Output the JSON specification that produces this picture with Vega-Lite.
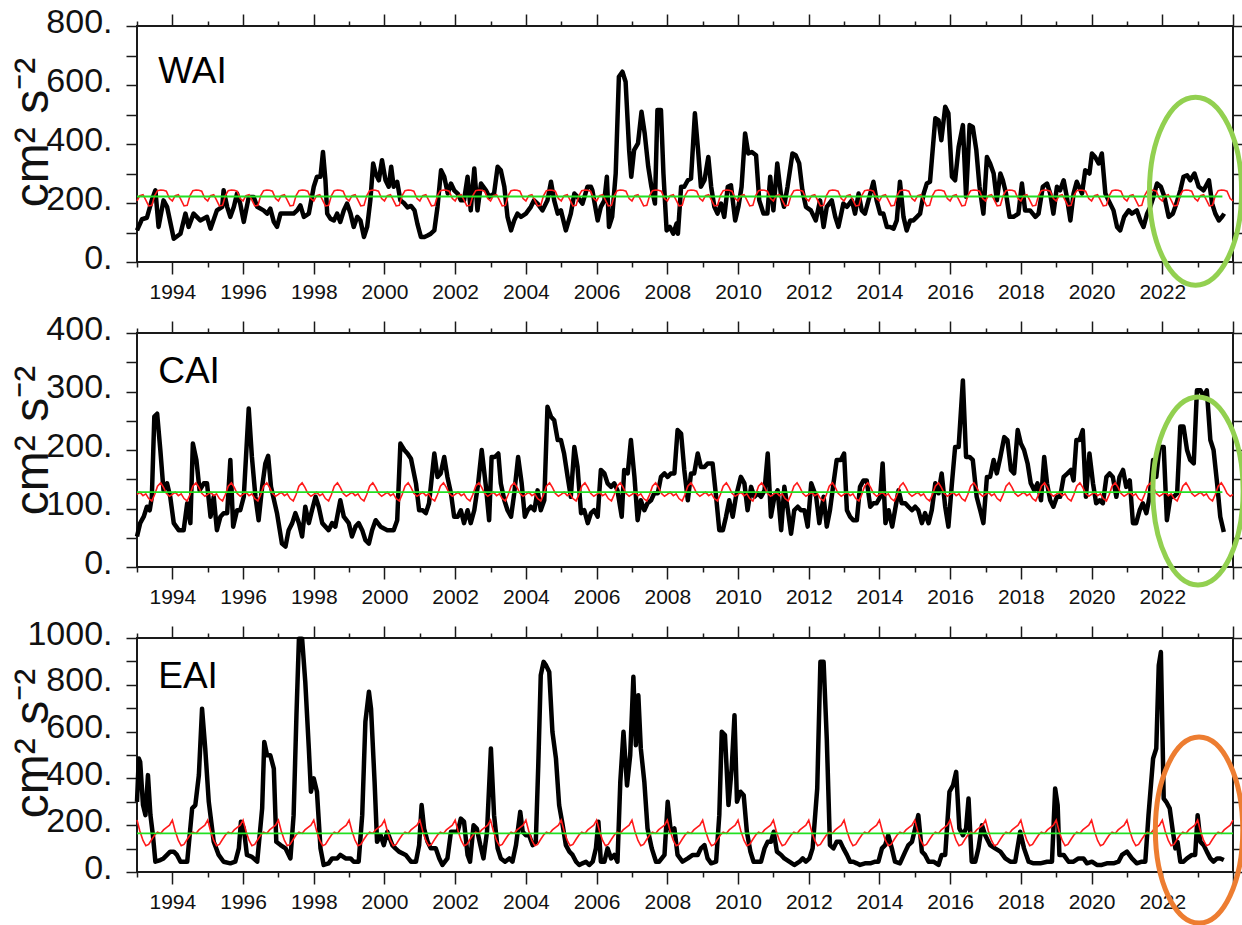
{
"$schema":"https://vega.github.io/schema/vega-lite/v6.json",
"autosize":{"type":"none"},
"padding":{"left":137,"top":26,"right":1105,"bottom":899},
"background":"white",
"spacing":71,
"bounds":"flush",
"config":{"view":{"stroke":"#1a1a1a","strokeWidth":2},"axis":{"domain":false,"grid":false,"tickColor":"#1a1a1a","tickWidth":1.5,"labelFont":"Liberation Sans","titleFont":"Liberation Sans Narrow, Liberation Sans","labelColor":"#111","titleColor":"#111","labelOverlap":false,"labelFlush":false,"titleFontWeight":"normal"}},
"datasets":{
"tl":[{"t":1993,"m":1},{"t":1993.08,"m":2},{"t":1993.17,"m":3},{"t":1993.25,"m":4},{"t":1993.33,"m":5},{"t":1993.42,"m":6},{"t":1993.5,"m":7},{"t":1993.58,"m":8},{"t":1993.67,"m":9},{"t":1993.75,"m":10},{"t":1993.83,"m":11},{"t":1993.92,"m":12},
{"t":1994,"m":1},{"t":1994.08,"m":2},{"t":1994.17,"m":3},{"t":1994.25,"m":4},{"t":1994.33,"m":5},{"t":1994.42,"m":6},{"t":1994.5,"m":7},{"t":1994.58,"m":8},{"t":1994.67,"m":9},{"t":1994.75,"m":10},{"t":1994.83,"m":11},{"t":1994.92,"m":12},
{"t":1995,"m":1},{"t":1995.08,"m":2},{"t":1995.17,"m":3},{"t":1995.25,"m":4},{"t":1995.33,"m":5},{"t":1995.42,"m":6},{"t":1995.5,"m":7},{"t":1995.58,"m":8},{"t":1995.67,"m":9},{"t":1995.75,"m":10},{"t":1995.83,"m":11},{"t":1995.92,"m":12},
{"t":1996,"m":1},{"t":1996.08,"m":2},{"t":1996.17,"m":3},{"t":1996.25,"m":4},{"t":1996.33,"m":5},{"t":1996.42,"m":6},{"t":1996.5,"m":7},{"t":1996.58,"m":8},{"t":1996.67,"m":9},{"t":1996.75,"m":10},{"t":1996.83,"m":11},{"t":1996.92,"m":12},
{"t":1997,"m":1},{"t":1997.08,"m":2},{"t":1997.17,"m":3},{"t":1997.25,"m":4},{"t":1997.33,"m":5},{"t":1997.42,"m":6},{"t":1997.5,"m":7},{"t":1997.58,"m":8},{"t":1997.67,"m":9},{"t":1997.75,"m":10},{"t":1997.83,"m":11},{"t":1997.92,"m":12},
{"t":1998,"m":1},{"t":1998.08,"m":2},{"t":1998.17,"m":3},{"t":1998.25,"m":4},{"t":1998.33,"m":5},{"t":1998.42,"m":6},{"t":1998.5,"m":7},{"t":1998.58,"m":8},{"t":1998.67,"m":9},{"t":1998.75,"m":10},{"t":1998.83,"m":11},{"t":1998.92,"m":12},
{"t":1999,"m":1},{"t":1999.08,"m":2},{"t":1999.17,"m":3},{"t":1999.25,"m":4},{"t":1999.33,"m":5},{"t":1999.42,"m":6},{"t":1999.5,"m":7},{"t":1999.58,"m":8},{"t":1999.67,"m":9},{"t":1999.75,"m":10},{"t":1999.83,"m":11},{"t":1999.92,"m":12},
{"t":2000,"m":1},{"t":2000.08,"m":2},{"t":2000.17,"m":3},{"t":2000.25,"m":4},{"t":2000.33,"m":5},{"t":2000.42,"m":6},{"t":2000.5,"m":7},{"t":2000.58,"m":8},{"t":2000.67,"m":9},{"t":2000.75,"m":10},{"t":2000.83,"m":11},{"t":2000.92,"m":12},
{"t":2001,"m":1},{"t":2001.08,"m":2},{"t":2001.17,"m":3},{"t":2001.25,"m":4},{"t":2001.33,"m":5},{"t":2001.42,"m":6},{"t":2001.5,"m":7},{"t":2001.58,"m":8},{"t":2001.67,"m":9},{"t":2001.75,"m":10},{"t":2001.83,"m":11},{"t":2001.92,"m":12},
{"t":2002,"m":1},{"t":2002.08,"m":2},{"t":2002.17,"m":3},{"t":2002.25,"m":4},{"t":2002.33,"m":5},{"t":2002.42,"m":6},{"t":2002.5,"m":7},{"t":2002.58,"m":8},{"t":2002.67,"m":9},{"t":2002.75,"m":10},{"t":2002.83,"m":11},{"t":2002.92,"m":12},
{"t":2003,"m":1},{"t":2003.08,"m":2},{"t":2003.17,"m":3},{"t":2003.25,"m":4},{"t":2003.33,"m":5},{"t":2003.42,"m":6},{"t":2003.5,"m":7},{"t":2003.58,"m":8},{"t":2003.67,"m":9},{"t":2003.75,"m":10},{"t":2003.83,"m":11},{"t":2003.92,"m":12},
{"t":2004,"m":1},{"t":2004.08,"m":2},{"t":2004.17,"m":3},{"t":2004.25,"m":4},{"t":2004.33,"m":5},{"t":2004.42,"m":6},{"t":2004.5,"m":7},{"t":2004.58,"m":8},{"t":2004.67,"m":9},{"t":2004.75,"m":10},{"t":2004.83,"m":11},{"t":2004.92,"m":12},
{"t":2005,"m":1},{"t":2005.08,"m":2},{"t":2005.17,"m":3},{"t":2005.25,"m":4},{"t":2005.33,"m":5},{"t":2005.42,"m":6},{"t":2005.5,"m":7},{"t":2005.58,"m":8},{"t":2005.67,"m":9},{"t":2005.75,"m":10},{"t":2005.83,"m":11},{"t":2005.92,"m":12},
{"t":2006,"m":1},{"t":2006.08,"m":2},{"t":2006.17,"m":3},{"t":2006.25,"m":4},{"t":2006.33,"m":5},{"t":2006.42,"m":6},{"t":2006.5,"m":7},{"t":2006.58,"m":8},{"t":2006.67,"m":9},{"t":2006.75,"m":10},{"t":2006.83,"m":11},{"t":2006.92,"m":12},
{"t":2007,"m":1},{"t":2007.08,"m":2},{"t":2007.17,"m":3},{"t":2007.25,"m":4},{"t":2007.33,"m":5},{"t":2007.42,"m":6},{"t":2007.5,"m":7},{"t":2007.58,"m":8},{"t":2007.67,"m":9},{"t":2007.75,"m":10},{"t":2007.83,"m":11},{"t":2007.92,"m":12},
{"t":2008,"m":1},{"t":2008.08,"m":2},{"t":2008.17,"m":3},{"t":2008.25,"m":4},{"t":2008.33,"m":5},{"t":2008.42,"m":6},{"t":2008.5,"m":7},{"t":2008.58,"m":8},{"t":2008.67,"m":9},{"t":2008.75,"m":10},{"t":2008.83,"m":11},{"t":2008.92,"m":12},
{"t":2009,"m":1},{"t":2009.08,"m":2},{"t":2009.17,"m":3},{"t":2009.25,"m":4},{"t":2009.33,"m":5},{"t":2009.42,"m":6},{"t":2009.5,"m":7},{"t":2009.58,"m":8},{"t":2009.67,"m":9},{"t":2009.75,"m":10},{"t":2009.83,"m":11},{"t":2009.92,"m":12},
{"t":2010,"m":1},{"t":2010.08,"m":2},{"t":2010.17,"m":3},{"t":2010.25,"m":4},{"t":2010.33,"m":5},{"t":2010.42,"m":6},{"t":2010.5,"m":7},{"t":2010.58,"m":8},{"t":2010.67,"m":9},{"t":2010.75,"m":10},{"t":2010.83,"m":11},{"t":2010.92,"m":12},
{"t":2011,"m":1},{"t":2011.08,"m":2},{"t":2011.17,"m":3},{"t":2011.25,"m":4},{"t":2011.33,"m":5},{"t":2011.42,"m":6},{"t":2011.5,"m":7},{"t":2011.58,"m":8},{"t":2011.67,"m":9},{"t":2011.75,"m":10},{"t":2011.83,"m":11},{"t":2011.92,"m":12},
{"t":2012,"m":1},{"t":2012.08,"m":2},{"t":2012.17,"m":3},{"t":2012.25,"m":4},{"t":2012.33,"m":5},{"t":2012.42,"m":6},{"t":2012.5,"m":7},{"t":2012.58,"m":8},{"t":2012.67,"m":9},{"t":2012.75,"m":10},{"t":2012.83,"m":11},{"t":2012.92,"m":12},
{"t":2013,"m":1},{"t":2013.08,"m":2},{"t":2013.17,"m":3},{"t":2013.25,"m":4},{"t":2013.33,"m":5},{"t":2013.42,"m":6},{"t":2013.5,"m":7},{"t":2013.58,"m":8},{"t":2013.67,"m":9},{"t":2013.75,"m":10},{"t":2013.83,"m":11},{"t":2013.92,"m":12},
{"t":2014,"m":1},{"t":2014.08,"m":2},{"t":2014.17,"m":3},{"t":2014.25,"m":4},{"t":2014.33,"m":5},{"t":2014.42,"m":6},{"t":2014.5,"m":7},{"t":2014.58,"m":8},{"t":2014.67,"m":9},{"t":2014.75,"m":10},{"t":2014.83,"m":11},{"t":2014.92,"m":12},
{"t":2015,"m":1},{"t":2015.08,"m":2},{"t":2015.17,"m":3},{"t":2015.25,"m":4},{"t":2015.33,"m":5},{"t":2015.42,"m":6},{"t":2015.5,"m":7},{"t":2015.58,"m":8},{"t":2015.67,"m":9},{"t":2015.75,"m":10},{"t":2015.83,"m":11},{"t":2015.92,"m":12},
{"t":2016,"m":1},{"t":2016.08,"m":2},{"t":2016.17,"m":3},{"t":2016.25,"m":4},{"t":2016.33,"m":5},{"t":2016.42,"m":6},{"t":2016.5,"m":7},{"t":2016.58,"m":8},{"t":2016.67,"m":9},{"t":2016.75,"m":10},{"t":2016.83,"m":11},{"t":2016.92,"m":12},
{"t":2017,"m":1},{"t":2017.08,"m":2},{"t":2017.17,"m":3},{"t":2017.25,"m":4},{"t":2017.33,"m":5},{"t":2017.42,"m":6},{"t":2017.5,"m":7},{"t":2017.58,"m":8},{"t":2017.67,"m":9},{"t":2017.75,"m":10},{"t":2017.83,"m":11},{"t":2017.92,"m":12},
{"t":2018,"m":1},{"t":2018.08,"m":2},{"t":2018.17,"m":3},{"t":2018.25,"m":4},{"t":2018.33,"m":5},{"t":2018.42,"m":6},{"t":2018.5,"m":7},{"t":2018.58,"m":8},{"t":2018.67,"m":9},{"t":2018.75,"m":10},{"t":2018.83,"m":11},{"t":2018.92,"m":12},
{"t":2019,"m":1},{"t":2019.08,"m":2},{"t":2019.17,"m":3},{"t":2019.25,"m":4},{"t":2019.33,"m":5},{"t":2019.42,"m":6},{"t":2019.5,"m":7},{"t":2019.58,"m":8},{"t":2019.67,"m":9},{"t":2019.75,"m":10},{"t":2019.83,"m":11},{"t":2019.92,"m":12},
{"t":2020,"m":1},{"t":2020.08,"m":2},{"t":2020.17,"m":3},{"t":2020.25,"m":4},{"t":2020.33,"m":5},{"t":2020.42,"m":6},{"t":2020.5,"m":7},{"t":2020.58,"m":8},{"t":2020.67,"m":9},{"t":2020.75,"m":10},{"t":2020.83,"m":11},{"t":2020.92,"m":12},
{"t":2021,"m":1},{"t":2021.08,"m":2},{"t":2021.17,"m":3},{"t":2021.25,"m":4},{"t":2021.33,"m":5},{"t":2021.42,"m":6},{"t":2021.5,"m":7},{"t":2021.58,"m":8},{"t":2021.67,"m":9},{"t":2021.75,"m":10},{"t":2021.83,"m":11},{"t":2021.92,"m":12},
{"t":2022,"m":1},{"t":2022.08,"m":2},{"t":2022.17,"m":3},{"t":2022.25,"m":4},{"t":2022.33,"m":5},{"t":2022.42,"m":6},{"t":2022.5,"m":7},{"t":2022.58,"m":8},{"t":2022.67,"m":9},{"t":2022.75,"m":10},{"t":2022.83,"m":11},{"t":2022.92,"m":12},
{"t":2023,"m":1},{"t":2023.08,"m":2},{"t":2023.17,"m":3},{"t":2023.25,"m":4},{"t":2023.33,"m":5},{"t":2023.42,"m":6},{"t":2023.5,"m":7},{"t":2023.58,"m":8},{"t":2023.67,"m":9},{"t":2023.75,"m":10},{"t":2023.83,"m":11},{"t":2023.92,"m":12},
{"t":2024,"m":1}],
"wai":[{"t":1993,"v":107},{"t":1993.14,"v":145},{"t":1993.28,"v":150},{"t":1993.42,"v":210},{"t":1993.52,"v":243},{"t":1993.61,"v":119},{"t":1993.75,"v":209},{"t":1993.85,"v":187},{"t":1994.04,"v":79},{"t":1994.23,"v":96},{"t":1994.37,"v":164},{"t":1994.46,"v":119},{"t":1994.6,"v":164},{"t":1994.79,"v":141},{"t":1994.98,"v":153},{"t":1995.08,"v":113},{"t":1995.26,"v":175},{"t":1995.41,"v":187},{"t":1995.45,"v":243},{"t":1995.55,"v":187},{"t":1995.64,"v":153},{"t":1995.74,"v":187},{"t":1995.83,"v":232},{"t":1995.92,"v":198},{"t":1996.02,"v":136},{"t":1996.16,"v":220},{"t":1996.3,"v":220},{"t":1996.4,"v":187},{"t":1996.58,"v":175},{"t":1996.68,"v":164},{"t":1996.77,"v":181},{"t":1996.87,"v":136},{"t":1996.96,"v":119},{"t":1997.06,"v":164},{"t":1997.25,"v":164},{"t":1997.43,"v":164},{"t":1997.53,"v":175},{"t":1997.62,"v":192},{"t":1997.72,"v":153},{"t":1997.86,"v":164},{"t":1998,"v":255},{"t":1998.09,"v":289},{"t":1998.19,"v":289},{"t":1998.26,"v":373},{"t":1998.33,"v":277},{"t":1998.38,"v":164},{"t":1998.47,"v":147},{"t":1998.57,"v":141},{"t":1998.66,"v":164},{"t":1998.75,"v":136},{"t":1998.85,"v":175},{"t":1998.94,"v":198},{"t":1999.04,"v":164},{"t":1999.13,"v":119},{"t":1999.23,"v":153},{"t":1999.32,"v":141},{"t":1999.42,"v":85},{"t":1999.51,"v":119},{"t":1999.6,"v":209},{"t":1999.68,"v":334},{"t":1999.75,"v":300},{"t":1999.84,"v":277},{"t":1999.93,"v":345},{"t":2000.03,"v":277},{"t":2000.12,"v":255},{"t":2000.19,"v":323},{"t":2000.26,"v":255},{"t":2000.36,"v":272},{"t":2000.45,"v":209},{"t":2000.55,"v":200},{"t":2000.65,"v":185},{"t":2000.75,"v":190},{"t":2000.85,"v":175},{"t":2000.93,"v":130},{"t":2001.03,"v":85},{"t":2001.13,"v":85},{"t":2001.22,"v":90},{"t":2001.31,"v":96},{"t":2001.41,"v":107},{"t":2001.5,"v":187},{"t":2001.6,"v":311},{"t":2001.69,"v":289},{"t":2001.79,"v":232},{"t":2001.88,"v":266},{"t":2001.97,"v":243},{"t":2002.07,"v":232},{"t":2002.16,"v":209},{"t":2002.25,"v":209},{"t":2002.35,"v":289},{"t":2002.44,"v":175},{"t":2002.54,"v":317},{"t":2002.63,"v":175},{"t":2002.73,"v":266},{"t":2002.87,"v":243},{"t":2002.96,"v":221},{"t":2003.1,"v":232},{"t":2003.2,"v":323},{"t":2003.29,"v":311},{"t":2003.39,"v":255},{"t":2003.48,"v":153},{"t":2003.58,"v":107},{"t":2003.67,"v":141},{"t":2003.76,"v":164},{"t":2003.86,"v":153},{"t":2004,"v":164},{"t":2004.14,"v":187},{"t":2004.23,"v":209},{"t":2004.33,"v":198},{"t":2004.47,"v":175},{"t":2004.61,"v":209},{"t":2004.71,"v":272},{"t":2004.8,"v":209},{"t":2004.9,"v":164},{"t":2004.99,"v":175},{"t":2005.13,"v":107},{"t":2005.27,"v":164},{"t":2005.37,"v":232},{"t":2005.46,"v":221},{"t":2005.6,"v":198},{"t":2005.74,"v":255},{"t":2005.84,"v":255},{"t":2005.88,"v":243},{"t":2006.03,"v":141},{"t":2006.12,"v":187},{"t":2006.22,"v":209},{"t":2006.29,"v":289},{"t":2006.35,"v":119},{"t":2006.44,"v":153},{"t":2006.54,"v":300},{"t":2006.63,"v":628},{"t":2006.73,"v":645},{"t":2006.82,"v":611},{"t":2006.92,"v":379},{"t":2006.98,"v":289},{"t":2007.06,"v":379},{"t":2007.17,"v":402},{"t":2007.27,"v":509},{"t":2007.36,"v":436},{"t":2007.46,"v":323},{"t":2007.55,"v":255},{"t":2007.65,"v":198},{"t":2007.72,"v":515},{"t":2007.82,"v":515},{"t":2007.89,"v":300},{"t":2007.98,"v":107},{"t":2008.07,"v":119},{"t":2008.17,"v":96},{"t":2008.26,"v":130},{"t":2008.3,"v":96},{"t":2008.39,"v":255},{"t":2008.48,"v":255},{"t":2008.58,"v":277},{"t":2008.67,"v":283},{"t":2008.78,"v":504},{"t":2008.87,"v":379},{"t":2008.95,"v":255},{"t":2009.05,"v":277},{"t":2009.16,"v":356},{"t":2009.24,"v":255},{"t":2009.33,"v":187},{"t":2009.42,"v":164},{"t":2009.52,"v":198},{"t":2009.61,"v":153},{"t":2009.71,"v":255},{"t":2009.8,"v":260},{"t":2009.92,"v":141},{"t":2010.01,"v":187},{"t":2010.1,"v":255},{"t":2010.2,"v":436},{"t":2010.29,"v":368},{"t":2010.39,"v":373},{"t":2010.51,"v":362},{"t":2010.6,"v":209},{"t":2010.72,"v":164},{"t":2010.83,"v":164},{"t":2010.91,"v":289},{"t":2011,"v":175},{"t":2011.11,"v":334},{"t":2011.21,"v":232},{"t":2011.3,"v":187},{"t":2011.4,"v":255},{"t":2011.54,"v":368},{"t":2011.63,"v":362},{"t":2011.73,"v":334},{"t":2011.82,"v":243},{"t":2011.92,"v":187},{"t":2012.06,"v":175},{"t":2012.2,"v":141},{"t":2012.32,"v":209},{"t":2012.42,"v":119},{"t":2012.51,"v":187},{"t":2012.65,"v":209},{"t":2012.75,"v":153},{"t":2012.84,"v":119},{"t":2012.98,"v":198},{"t":2013.08,"v":187},{"t":2013.22,"v":209},{"t":2013.31,"v":164},{"t":2013.41,"v":232},{"t":2013.5,"v":175},{"t":2013.59,"v":164},{"t":2013.69,"v":209},{"t":2013.83,"v":272},{"t":2013.92,"v":209},{"t":2014.02,"v":164},{"t":2014.11,"v":164},{"t":2014.21,"v":119},{"t":2014.3,"v":119},{"t":2014.4,"v":113},{"t":2014.49,"v":141},{"t":2014.58,"v":272},{"t":2014.68,"v":153},{"t":2014.77,"v":107},{"t":2014.87,"v":141},{"t":2014.96,"v":141},{"t":2015.06,"v":153},{"t":2015.15,"v":164},{"t":2015.25,"v":232},{"t":2015.34,"v":266},{"t":2015.43,"v":272},{"t":2015.58,"v":487},{"t":2015.67,"v":481},{"t":2015.75,"v":413},{"t":2015.86,"v":526},{"t":2015.95,"v":504},{"t":2016.05,"v":289},{"t":2016.14,"v":277},{"t":2016.24,"v":390},{"t":2016.36,"v":464},{"t":2016.45,"v":221},{"t":2016.55,"v":464},{"t":2016.64,"v":458},{"t":2016.74,"v":379},{"t":2016.83,"v":255},{"t":2016.94,"v":164},{"t":2017.04,"v":356},{"t":2017.13,"v":334},{"t":2017.23,"v":300},{"t":2017.32,"v":209},{"t":2017.42,"v":300},{"t":2017.49,"v":277},{"t":2017.58,"v":232},{"t":2017.68,"v":153},{"t":2017.79,"v":153},{"t":2017.93,"v":164},{"t":2018.03,"v":266},{"t":2018.12,"v":175},{"t":2018.26,"v":175},{"t":2018.41,"v":153},{"t":2018.5,"v":164},{"t":2018.62,"v":255},{"t":2018.74,"v":266},{"t":2018.83,"v":232},{"t":2018.92,"v":164},{"t":2019.02,"v":255},{"t":2019.11,"v":243},{"t":2019.21,"v":277},{"t":2019.3,"v":221},{"t":2019.4,"v":141},{"t":2019.49,"v":232},{"t":2019.58,"v":272},{"t":2019.73,"v":232},{"t":2019.82,"v":311},{"t":2019.94,"v":300},{"t":2020.01,"v":368},{"t":2020.1,"v":356},{"t":2020.2,"v":334},{"t":2020.29,"v":368},{"t":2020.39,"v":232},{"t":2020.48,"v":209},{"t":2020.62,"v":175},{"t":2020.72,"v":119},{"t":2020.81,"v":107},{"t":2020.92,"v":153},{"t":2021.05,"v":175},{"t":2021.14,"v":164},{"t":2021.28,"v":175},{"t":2021.38,"v":141},{"t":2021.47,"v":119},{"t":2021.57,"v":164},{"t":2021.66,"v":187},{"t":2021.75,"v":221},{"t":2021.85,"v":266},{"t":2021.96,"v":255},{"t":2022.06,"v":221},{"t":2022.18,"v":153},{"t":2022.3,"v":164},{"t":2022.4,"v":198},{"t":2022.51,"v":243},{"t":2022.6,"v":289},{"t":2022.7,"v":294},{"t":2022.79,"v":277},{"t":2022.91,"v":300},{"t":2023.03,"v":255},{"t":2023.17,"v":243},{"t":2023.32,"v":277},{"t":2023.41,"v":198},{"t":2023.5,"v":164},{"t":2023.6,"v":141},{"t":2023.69,"v":153},{"t":2023.75,"v":164}],
"cai":[{"t":1993,"v":52},{"t":1993.09,"v":75},{"t":1993.19,"v":86},{"t":1993.28,"v":103},{"t":1993.36,"v":97},{"t":1993.42,"v":120},{"t":1993.49,"v":257},{"t":1993.57,"v":262},{"t":1993.66,"v":200},{"t":1993.75,"v":131},{"t":1993.85,"v":143},{"t":1993.94,"v":120},{"t":1994.04,"v":75},{"t":1994.18,"v":63},{"t":1994.32,"v":63},{"t":1994.42,"v":109},{"t":1994.51,"v":75},{"t":1994.58,"v":211},{"t":1994.68,"v":183},{"t":1994.77,"v":131},{"t":1994.89,"v":143},{"t":1994.98,"v":143},{"t":1995.08,"v":86},{"t":1995.17,"v":120},{"t":1995.26,"v":63},{"t":1995.36,"v":86},{"t":1995.45,"v":92},{"t":1995.55,"v":92},{"t":1995.64,"v":183},{"t":1995.72,"v":69},{"t":1995.83,"v":97},{"t":1995.92,"v":97},{"t":1996.02,"v":120},{"t":1996.16,"v":271},{"t":1996.25,"v":188},{"t":1996.35,"v":120},{"t":1996.44,"v":80},{"t":1996.54,"v":137},{"t":1996.63,"v":177},{"t":1996.71,"v":190},{"t":1996.79,"v":137},{"t":1996.96,"v":92},{"t":1997.1,"v":40},{"t":1997.2,"v":35},{"t":1997.29,"v":63},{"t":1997.39,"v":75},{"t":1997.48,"v":92},{"t":1997.58,"v":75},{"t":1997.67,"v":52},{"t":1997.76,"v":103},{"t":1997.86,"v":75},{"t":1997.95,"v":97},{"t":1998.05,"v":120},{"t":1998.14,"v":103},{"t":1998.24,"v":75},{"t":1998.33,"v":69},{"t":1998.42,"v":63},{"t":1998.52,"v":75},{"t":1998.61,"v":69},{"t":1998.75,"v":114},{"t":1998.85,"v":86},{"t":1998.99,"v":75},{"t":1999.08,"v":52},{"t":1999.18,"v":69},{"t":1999.27,"v":75},{"t":1999.37,"v":63},{"t":1999.46,"v":46},{"t":1999.56,"v":40},{"t":1999.65,"v":63},{"t":1999.75,"v":80},{"t":1999.89,"v":69},{"t":2000.08,"v":63},{"t":2000.26,"v":63},{"t":2000.36,"v":80},{"t":2000.45,"v":211},{"t":2000.56,"v":200},{"t":2000.65,"v":194},{"t":2000.75,"v":185},{"t":2000.89,"v":143},{"t":2000.98,"v":97},{"t":2001.08,"v":97},{"t":2001.17,"v":92},{"t":2001.26,"v":109},{"t":2001.41,"v":194},{"t":2001.5,"v":154},{"t":2001.59,"v":160},{"t":2001.69,"v":188},{"t":2001.78,"v":154},{"t":2001.88,"v":126},{"t":2001.97,"v":86},{"t":2002.07,"v":86},{"t":2002.16,"v":97},{"t":2002.25,"v":75},{"t":2002.35,"v":97},{"t":2002.44,"v":75},{"t":2002.54,"v":97},{"t":2002.65,"v":143},{"t":2002.75,"v":200},{"t":2002.87,"v":137},{"t":2002.96,"v":80},{"t":2003.03,"v":188},{"t":2003.12,"v":188},{"t":2003.22,"v":194},{"t":2003.29,"v":143},{"t":2003.39,"v":114},{"t":2003.48,"v":97},{"t":2003.58,"v":86},{"t":2003.67,"v":126},{"t":2003.78,"v":188},{"t":2003.88,"v":143},{"t":2003.97,"v":86},{"t":2004.05,"v":97},{"t":2004.14,"v":103},{"t":2004.24,"v":97},{"t":2004.33,"v":131},{"t":2004.42,"v":97},{"t":2004.52,"v":114},{"t":2004.61,"v":274},{"t":2004.71,"v":257},{"t":2004.8,"v":251},{"t":2004.9,"v":217},{"t":2004.99,"v":217},{"t":2005.08,"v":194},{"t":2005.18,"v":154},{"t":2005.27,"v":120},{"t":2005.37,"v":205},{"t":2005.46,"v":171},{"t":2005.56,"v":92},{"t":2005.65,"v":97},{"t":2005.75,"v":75},{"t":2005.84,"v":92},{"t":2005.93,"v":97},{"t":2006.03,"v":86},{"t":2006.12,"v":166},{"t":2006.22,"v":160},{"t":2006.31,"v":143},{"t":2006.41,"v":137},{"t":2006.5,"v":143},{"t":2006.59,"v":131},{"t":2006.71,"v":86},{"t":2006.78,"v":166},{"t":2006.88,"v":160},{"t":2006.97,"v":217},{"t":2007.07,"v":154},{"t":2007.16,"v":80},{"t":2007.25,"v":114},{"t":2007.35,"v":97},{"t":2007.44,"v":109},{"t":2007.54,"v":114},{"t":2007.63,"v":126},{"t":2007.73,"v":126},{"t":2007.82,"v":154},{"t":2007.92,"v":160},{"t":2008.01,"v":154},{"t":2008.1,"v":160},{"t":2008.2,"v":160},{"t":2008.29,"v":234},{"t":2008.39,"v":228},{"t":2008.48,"v":166},{"t":2008.58,"v":114},{"t":2008.67,"v":160},{"t":2008.76,"v":160},{"t":2008.86,"v":194},{"t":2008.95,"v":171},{"t":2009.05,"v":171},{"t":2009.14,"v":177},{"t":2009.28,"v":177},{"t":2009.38,"v":120},{"t":2009.47,"v":63},{"t":2009.57,"v":63},{"t":2009.66,"v":86},{"t":2009.75,"v":114},{"t":2009.85,"v":86},{"t":2009.94,"v":120},{"t":2010.08,"v":154},{"t":2010.18,"v":143},{"t":2010.27,"v":97},{"t":2010.37,"v":137},{"t":2010.46,"v":120},{"t":2010.56,"v":126},{"t":2010.65,"v":120},{"t":2010.75,"v":131},{"t":2010.84,"v":194},{"t":2010.93,"v":86},{"t":2011.03,"v":120},{"t":2011.12,"v":131},{"t":2011.22,"v":63},{"t":2011.31,"v":137},{"t":2011.41,"v":97},{"t":2011.5,"v":57},{"t":2011.59,"v":97},{"t":2011.69,"v":103},{"t":2011.78,"v":97},{"t":2011.88,"v":97},{"t":2011.97,"v":69},{"t":2012.07,"v":143},{"t":2012.21,"v":120},{"t":2012.3,"v":75},{"t":2012.42,"v":120},{"t":2012.51,"v":69},{"t":2012.6,"v":97},{"t":2012.7,"v":143},{"t":2012.79,"v":183},{"t":2012.91,"v":183},{"t":2013,"v":194},{"t":2013.08,"v":97},{"t":2013.17,"v":86},{"t":2013.26,"v":80},{"t":2013.36,"v":80},{"t":2013.45,"v":137},{"t":2013.55,"v":148},{"t":2013.64,"v":148},{"t":2013.74,"v":103},{"t":2013.83,"v":109},{"t":2013.92,"v":109},{"t":2014.02,"v":120},{"t":2014.09,"v":177},{"t":2014.17,"v":75},{"t":2014.26,"v":97},{"t":2014.36,"v":69},{"t":2014.44,"v":97},{"t":2014.54,"v":131},{"t":2014.63,"v":109},{"t":2014.73,"v":109},{"t":2014.82,"v":103},{"t":2014.92,"v":97},{"t":2015.01,"v":103},{"t":2015.1,"v":97},{"t":2015.2,"v":75},{"t":2015.29,"v":92},{"t":2015.39,"v":75},{"t":2015.48,"v":97},{"t":2015.58,"v":143},{"t":2015.67,"v":126},{"t":2015.76,"v":160},{"t":2015.86,"v":103},{"t":2015.95,"v":69},{"t":2016.05,"v":143},{"t":2016.14,"v":205},{"t":2016.24,"v":205},{"t":2016.36,"v":319},{"t":2016.45,"v":188},{"t":2016.55,"v":188},{"t":2016.64,"v":183},{"t":2016.75,"v":120},{"t":2016.85,"v":97},{"t":2016.94,"v":75},{"t":2017.04,"v":154},{"t":2017.13,"v":154},{"t":2017.23,"v":183},{"t":2017.32,"v":160},{"t":2017.42,"v":188},{"t":2017.53,"v":222},{"t":2017.62,"v":217},{"t":2017.72,"v":166},{"t":2017.81,"v":160},{"t":2017.91,"v":234},{"t":2018,"v":211},{"t":2018.09,"v":200},{"t":2018.19,"v":177},{"t":2018.28,"v":143},{"t":2018.38,"v":131},{"t":2018.47,"v":143},{"t":2018.57,"v":114},{"t":2018.66,"v":188},{"t":2018.74,"v":143},{"t":2018.83,"v":114},{"t":2018.92,"v":103},{"t":2019.02,"v":120},{"t":2019.11,"v":120},{"t":2019.21,"v":154},{"t":2019.32,"v":160},{"t":2019.42,"v":166},{"t":2019.49,"v":148},{"t":2019.57,"v":217},{"t":2019.66,"v":217},{"t":2019.75,"v":234},{"t":2019.84,"v":120},{"t":2019.94,"v":194},{"t":2020.04,"v":143},{"t":2020.13,"v":109},{"t":2020.23,"v":114},{"t":2020.32,"v":109},{"t":2020.42,"v":154},{"t":2020.51,"v":160},{"t":2020.6,"v":154},{"t":2020.7,"v":120},{"t":2020.79,"v":154},{"t":2020.89,"v":166},{"t":2020.98,"v":137},{"t":2021.08,"v":148},{"t":2021.17,"v":75},{"t":2021.26,"v":75},{"t":2021.36,"v":97},{"t":2021.45,"v":109},{"t":2021.55,"v":92},{"t":2021.64,"v":120},{"t":2021.74,"v":183},{"t":2021.83,"v":154},{"t":2021.92,"v":205},{"t":2022.04,"v":205},{"t":2022.13,"v":80},{"t":2022.23,"v":120},{"t":2022.32,"v":120},{"t":2022.42,"v":126},{"t":2022.51,"v":240},{"t":2022.6,"v":240},{"t":2022.7,"v":200},{"t":2022.79,"v":183},{"t":2022.89,"v":177},{"t":2022.98,"v":302},{"t":2023.08,"v":302},{"t":2023.17,"v":291},{"t":2023.26,"v":302},{"t":2023.36,"v":217},{"t":2023.45,"v":200},{"t":2023.55,"v":143},{"t":2023.64,"v":86},{"t":2023.74,"v":60}],
"eai":[{"t":1993,"v":300},{"t":1993.05,"v":485},{"t":1993.09,"v":471},{"t":1993.17,"v":286},{"t":1993.24,"v":243},{"t":1993.31,"v":414},{"t":1993.38,"v":243},{"t":1993.45,"v":157},{"t":1993.52,"v":44},{"t":1993.66,"v":51},{"t":1993.75,"v":58},{"t":1993.85,"v":73},{"t":1993.94,"v":87},{"t":1994.04,"v":87},{"t":1994.13,"v":73},{"t":1994.23,"v":44},{"t":1994.42,"v":44},{"t":1994.56,"v":272},{"t":1994.65,"v":286},{"t":1994.75,"v":414},{"t":1994.84,"v":698},{"t":1994.93,"v":528},{"t":1995.03,"v":300},{"t":1995.17,"v":129},{"t":1995.31,"v":73},{"t":1995.45,"v":44},{"t":1995.64,"v":37},{"t":1995.78,"v":44},{"t":1995.88,"v":101},{"t":1995.94,"v":215},{"t":1996.02,"v":186},{"t":1996.11,"v":73},{"t":1996.25,"v":65},{"t":1996.4,"v":44},{"t":1996.54,"v":272},{"t":1996.6,"v":556},{"t":1996.68,"v":499},{"t":1996.77,"v":499},{"t":1996.87,"v":442},{"t":1996.94,"v":129},{"t":1997.06,"v":115},{"t":1997.2,"v":101},{"t":1997.34,"v":58},{"t":1997.43,"v":243},{"t":1997.51,"v":670},{"t":1997.58,"v":997},{"t":1997.67,"v":997},{"t":1997.76,"v":812},{"t":1997.86,"v":528},{"t":1997.92,"v":343},{"t":1998,"v":400},{"t":1998.09,"v":343},{"t":1998.19,"v":101},{"t":1998.28,"v":30},{"t":1998.42,"v":37},{"t":1998.52,"v":58},{"t":1998.66,"v":58},{"t":1998.75,"v":73},{"t":1998.9,"v":58},{"t":1999.04,"v":58},{"t":1999.13,"v":44},{"t":1999.27,"v":44},{"t":1999.37,"v":243},{"t":1999.46,"v":642},{"t":1999.56,"v":770},{"t":1999.62,"v":698},{"t":1999.72,"v":385},{"t":1999.79,"v":129},{"t":1999.89,"v":157},{"t":1999.98,"v":115},{"t":2000.08,"v":172},{"t":2000.22,"v":115},{"t":2000.31,"v":101},{"t":2000.41,"v":87},{"t":2000.6,"v":73},{"t":2000.75,"v":44},{"t":2000.89,"v":44},{"t":2000.98,"v":115},{"t":2001.05,"v":286},{"t":2001.12,"v":186},{"t":2001.22,"v":129},{"t":2001.31,"v":101},{"t":2001.45,"v":101},{"t":2001.55,"v":58},{"t":2001.64,"v":30},{"t":2001.78,"v":58},{"t":2001.88,"v":172},{"t":2001.97,"v":172},{"t":2002.07,"v":172},{"t":2002.16,"v":228},{"t":2002.25,"v":215},{"t":2002.35,"v":73},{"t":2002.42,"v":44},{"t":2002.52,"v":200},{"t":2002.61,"v":186},{"t":2002.71,"v":115},{"t":2002.8,"v":58},{"t":2002.9,"v":172},{"t":2003.01,"v":528},{"t":2003.1,"v":243},{"t":2003.2,"v":101},{"t":2003.29,"v":58},{"t":2003.41,"v":44},{"t":2003.53,"v":58},{"t":2003.62,"v":44},{"t":2003.72,"v":115},{"t":2003.84,"v":257},{"t":2003.91,"v":172},{"t":2004,"v":157},{"t":2004.09,"v":157},{"t":2004.19,"v":115},{"t":2004.28,"v":129},{"t":2004.35,"v":457},{"t":2004.42,"v":841},{"t":2004.5,"v":898},{"t":2004.57,"v":883},{"t":2004.66,"v":855},{"t":2004.75,"v":599},{"t":2004.85,"v":485},{"t":2004.94,"v":286},{"t":2005.04,"v":200},{"t":2005.13,"v":115},{"t":2005.23,"v":87},{"t":2005.32,"v":73},{"t":2005.42,"v":44},{"t":2005.51,"v":30},{"t":2005.6,"v":37},{"t":2005.7,"v":44},{"t":2005.79,"v":30},{"t":2005.89,"v":44},{"t":2005.98,"v":101},{"t":2006.05,"v":215},{"t":2006.12,"v":44},{"t":2006.22,"v":44},{"t":2006.31,"v":101},{"t":2006.41,"v":58},{"t":2006.5,"v":73},{"t":2006.59,"v":44},{"t":2006.67,"v":385},{"t":2006.76,"v":599},{"t":2006.86,"v":370},{"t":2006.95,"v":499},{"t":2007.04,"v":834},{"t":2007.11,"v":542},{"t":2007.18,"v":755},{"t":2007.25,"v":528},{"t":2007.35,"v":385},{"t":2007.44,"v":186},{"t":2007.56,"v":101},{"t":2007.68,"v":44},{"t":2007.77,"v":44},{"t":2007.92,"v":73},{"t":2008.01,"v":300},{"t":2008.1,"v":172},{"t":2008.2,"v":186},{"t":2008.29,"v":73},{"t":2008.43,"v":44},{"t":2008.58,"v":58},{"t":2008.72,"v":73},{"t":2008.86,"v":73},{"t":2008.95,"v":101},{"t":2009.05,"v":115},{"t":2009.14,"v":58},{"t":2009.24,"v":37},{"t":2009.38,"v":44},{"t":2009.47,"v":243},{"t":2009.54,"v":599},{"t":2009.63,"v":585},{"t":2009.73,"v":286},{"t":2009.82,"v":442},{"t":2009.9,"v":670},{"t":2009.97,"v":300},{"t":2010.07,"v":343},{"t":2010.16,"v":328},{"t":2010.25,"v":172},{"t":2010.35,"v":87},{"t":2010.44,"v":44},{"t":2010.56,"v":44},{"t":2010.65,"v":44},{"t":2010.75,"v":101},{"t":2010.84,"v":129},{"t":2010.93,"v":129},{"t":2011.01,"v":172},{"t":2011.1,"v":87},{"t":2011.22,"v":73},{"t":2011.31,"v":58},{"t":2011.45,"v":44},{"t":2011.59,"v":30},{"t":2011.74,"v":44},{"t":2011.83,"v":58},{"t":2011.92,"v":44},{"t":2012.02,"v":58},{"t":2012.11,"v":101},{"t":2012.24,"v":357},{"t":2012.33,"v":898},{"t":2012.42,"v":898},{"t":2012.51,"v":570},{"t":2012.6,"v":115},{"t":2012.7,"v":101},{"t":2012.79,"v":129},{"t":2012.89,"v":129},{"t":2012.98,"v":101},{"t":2013.08,"v":73},{"t":2013.17,"v":44},{"t":2013.26,"v":44},{"t":2013.36,"v":37},{"t":2013.45,"v":30},{"t":2013.59,"v":37},{"t":2013.74,"v":37},{"t":2013.88,"v":44},{"t":2013.97,"v":44},{"t":2014.07,"v":101},{"t":2014.16,"v":115},{"t":2014.25,"v":157},{"t":2014.35,"v":101},{"t":2014.44,"v":44},{"t":2014.58,"v":37},{"t":2014.73,"v":87},{"t":2014.82,"v":115},{"t":2014.92,"v":129},{"t":2015.01,"v":186},{"t":2015.1,"v":243},{"t":2015.2,"v":87},{"t":2015.29,"v":73},{"t":2015.39,"v":44},{"t":2015.53,"v":44},{"t":2015.67,"v":30},{"t":2015.76,"v":73},{"t":2015.86,"v":73},{"t":2015.98,"v":343},{"t":2016.08,"v":370},{"t":2016.17,"v":428},{"t":2016.26,"v":186},{"t":2016.36,"v":157},{"t":2016.45,"v":186},{"t":2016.52,"v":314},{"t":2016.61,"v":44},{"t":2016.71,"v":44},{"t":2016.8,"v":101},{"t":2016.9,"v":200},{"t":2016.99,"v":157},{"t":2017.13,"v":115},{"t":2017.27,"v":101},{"t":2017.42,"v":87},{"t":2017.56,"v":58},{"t":2017.7,"v":44},{"t":2017.84,"v":44},{"t":2017.98,"v":172},{"t":2018.09,"v":101},{"t":2018.22,"v":44},{"t":2018.36,"v":37},{"t":2018.55,"v":37},{"t":2018.74,"v":44},{"t":2018.88,"v":44},{"t":2018.97,"v":357},{"t":2019.04,"v":286},{"t":2019.09,"v":73},{"t":2019.21,"v":73},{"t":2019.35,"v":44},{"t":2019.49,"v":44},{"t":2019.63,"v":58},{"t":2019.77,"v":58},{"t":2019.87,"v":37},{"t":2020.01,"v":44},{"t":2020.15,"v":30},{"t":2020.29,"v":30},{"t":2020.43,"v":37},{"t":2020.62,"v":37},{"t":2020.76,"v":44},{"t":2020.86,"v":73},{"t":2021,"v":87},{"t":2021.14,"v":58},{"t":2021.28,"v":37},{"t":2021.42,"v":44},{"t":2021.52,"v":44},{"t":2021.61,"v":243},{"t":2021.74,"v":485},{"t":2021.83,"v":528},{"t":2021.9,"v":883},{"t":2021.96,"v":940},{"t":2022.04,"v":314},{"t":2022.11,"v":300},{"t":2022.21,"v":272},{"t":2022.3,"v":172},{"t":2022.37,"v":101},{"t":2022.43,"v":129},{"t":2022.51,"v":44},{"t":2022.6,"v":44},{"t":2022.7,"v":58},{"t":2022.84,"v":73},{"t":2022.93,"v":73},{"t":2023,"v":243},{"t":2023.08,"v":129},{"t":2023.17,"v":115},{"t":2023.26,"v":87},{"t":2023.36,"v":58},{"t":2023.45,"v":44},{"t":2023.55,"v":58},{"t":2023.64,"v":58},{"t":2023.74,"v":51}]
},
"resolve":{"scale":{"x":"independent","y":"independent"}},
"vconcat":[
{"width":1096,"height":236,
"resolve":{"axis":{"x":"independent","y":"independent"}},
"layer":[
{"data":{"name":"wai"},"mark":{"type":"line","color":"#000","strokeWidth":4.5,"strokeJoin":"round"},
"encoding":{"x":{"field":"t","type":"quantitative","scale":{"domain":[1993,2024],"nice":false,"zero":false},"axis":{"orient":"bottom","title":null,"values":[1993,1994,1995,1996,1997,1998,1999,2000,2001,2002,2003,2004,2005,2006,2007,2008,2009,2010,2011,2012,2013,2014,2015,2016,2017,2018,2019,2020,2021,2022,2023,2024],"format":"d","labelExpr":"datum.value % 2 == 0 && datum.value < 2023 ? datum.label : ''","tickSize":{"condition":{"test":"datum.value % 2 == 0","value":12},"value":5},"labelFontSize":21,"labelPadding":7}},
"y":{"field":"v","type":"quantitative","scale":{"domain":[0,800],"nice":false},"axis":{"orient":"left","values":[0,100,200,300,400,500,600,700,800],"format":"d","labelExpr":"datum.value % 200 == 0 ? datum.label + '.' : ''","tickSize":11,"labelFontSize":34,"labelPadding":14,"labelOffset":-4,"title":"cm² s⁻²","titleFontSize":48,"titleAngle":-90,"titleX":-104,"titleY":106,"titleAlign":"center","titleBaseline":"middle"}}}},
{"data":{"name":"tl"},"transform":[{"lookup":"m","from":{"data":{"values":[{"m":1,"w":207},{"m":2,"w":225},{"m":3,"w":228},{"m":4,"w":210},{"m":5,"w":190},{"m":6,"w":192},{"m":7,"w":225},{"m":8,"w":242},{"m":9,"w":244},{"m":10,"w":243},{"m":11,"w":240},{"m":12,"w":215}]},"key":"m","fields":["w"]}}],
"mark":{"type":"line","color":"#ff1a1a","strokeWidth":1.6},
"encoding":{"x":{"field":"t","type":"quantitative","axis":{"orient":"top","title":null,"labels":false,"values":[1993,1994,1995,1996,1997,1998,1999,2000,2001,2002,2003,2004,2005,2006,2007,2008,2009,2010,2011,2012,2013,2014,2015,2016,2017,2018,2019,2020,2021,2022,2023,2024],"tickSize":{"condition":{"test":"datum.value % 2 == 0","value":12},"value":5}}},
"y":{"field":"w","type":"quantitative","axis":{"orient":"right","title":null,"labels":false,"values":[0,100,200,300,400,500,600,700,800],"tickSize":11}}}},
{"data":{"values":[{"a":1993,"b":2023.7,"v":222}]},"mark":{"type":"rule","color":"#22e022","strokeWidth":1.8},"encoding":{"x":{"field":"a","type":"quantitative","axis":null},"x2":{"field":"b"},"y":{"field":"v","type":"quantitative","axis":null}}},
{"data":{"values":[{"t":1993.6,"v":643,"s":"WAI"}]},"mark":{"type":"text","align":"left","baseline":"middle","fontSize":37,"font":"Liberation Sans","color":"#000"},"encoding":{"x":{"field":"t","type":"quantitative","axis":null},"y":{"field":"v","type":"quantitative","axis":null},"text":{"field":"s"}}},
{"data":{"values":[{"t":2022.94,"v":240}]},"mark":{"type":"point","shape":"M -0.49 0 A 0.49 1 0 1 0 0.49 0 A 0.49 1 0 1 0 -0.49 0 Z","size":35344,"filled":false,"stroke":"#92D050","strokeWidth":5,"opacity":1},"encoding":{"x":{"field":"t","type":"quantitative","axis":null},"y":{"field":"v","type":"quantitative","axis":null}}}
]},
{"width":1096,"height":234,
"resolve":{"axis":{"x":"independent","y":"independent"}},
"layer":[
{"data":{"name":"cai"},"mark":{"type":"line","color":"#000","strokeWidth":4.5,"strokeJoin":"round"},
"encoding":{"x":{"field":"t","type":"quantitative","scale":{"domain":[1993,2024],"nice":false,"zero":false},"axis":{"orient":"bottom","title":null,"values":[1993,1994,1995,1996,1997,1998,1999,2000,2001,2002,2003,2004,2005,2006,2007,2008,2009,2010,2011,2012,2013,2014,2015,2016,2017,2018,2019,2020,2021,2022,2023,2024],"format":"d","labelExpr":"datum.value % 2 == 0 && datum.value < 2023 ? datum.label : ''","tickSize":{"condition":{"test":"datum.value % 2 == 0","value":12},"value":5},"labelFontSize":21,"labelPadding":7}},
"y":{"field":"v","type":"quantitative","scale":{"domain":[0,400],"nice":false},"axis":{"orient":"left","values":[0,50,100,150,200,250,300,350,400],"format":"d","labelExpr":"datum.value % 100 == 0 ? datum.label + '.' : ''","tickSize":11,"labelFontSize":34,"labelPadding":14,"labelOffset":-4,"title":"cm² s⁻²","titleFontSize":48,"titleAngle":-90,"titleX":-104,"titleY":107,"titleAlign":"center","titleBaseline":"middle"}}}},
{"data":{"name":"tl"},"transform":[{"lookup":"m","from":{"data":{"values":[{"m":1,"c":124},{"m":2,"c":128},{"m":3,"c":122},{"m":4,"c":125},{"m":5,"c":117},{"m":6,"c":113},{"m":7,"c":124},{"m":8,"c":138},{"m":9,"c":144},{"m":10,"c":136},{"m":11,"c":126},{"m":12,"c":121}]},"key":"m","fields":["c"]}}],
"mark":{"type":"line","color":"#ff1a1a","strokeWidth":1.6},
"encoding":{"x":{"field":"t","type":"quantitative","axis":{"orient":"top","title":null,"labels":false,"values":[1993,1994,1995,1996,1997,1998,1999,2000,2001,2002,2003,2004,2005,2006,2007,2008,2009,2010,2011,2012,2013,2014,2015,2016,2017,2018,2019,2020,2021,2022,2023,2024],"tickSize":{"condition":{"test":"datum.value % 2 == 0","value":12},"value":5}}},
"y":{"field":"c","type":"quantitative","axis":{"orient":"right","title":null,"labels":false,"values":[0,50,100,150,200,250,300,350,400],"tickSize":11}}}},
{"data":{"values":[{"a":1993,"b":2023.7,"v":128}]},"mark":{"type":"rule","color":"#22e022","strokeWidth":1.8},"encoding":{"x":{"field":"a","type":"quantitative","axis":null},"x2":{"field":"b"},"y":{"field":"v","type":"quantitative","axis":null}}},
{"data":{"values":[{"t":1993.6,"v":333,"s":"CAI"}]},"mark":{"type":"text","align":"left","baseline":"middle","fontSize":37,"font":"Liberation Sans","color":"#000"},"encoding":{"x":{"field":"t","type":"quantitative","axis":null},"y":{"field":"v","type":"quantitative","axis":null},"text":{"field":"s"}}},
{"data":{"values":[{"t":2023.01,"v":130}]},"mark":{"type":"point","shape":"M -0.48 0 A 0.48 1 0 1 0 0.48 0 A 0.48 1 0 1 0 -0.48 0 Z","size":35344,"filled":false,"stroke":"#92D050","strokeWidth":5,"opacity":1},"encoding":{"x":{"field":"t","type":"quantitative","axis":null},"y":{"field":"v","type":"quantitative","axis":null}}}
]},
{"width":1096,"height":234,
"resolve":{"axis":{"x":"independent","y":"independent"}},
"layer":[
{"data":{"name":"eai"},"mark":{"type":"line","color":"#000","strokeWidth":4.5,"strokeJoin":"round"},
"encoding":{"x":{"field":"t","type":"quantitative","scale":{"domain":[1993,2024],"nice":false,"zero":false},"axis":{"orient":"bottom","title":null,"values":[1993,1994,1995,1996,1997,1998,1999,2000,2001,2002,2003,2004,2005,2006,2007,2008,2009,2010,2011,2012,2013,2014,2015,2016,2017,2018,2019,2020,2021,2022,2023,2024],"format":"d","labelExpr":"datum.value % 2 == 0 && datum.value < 2023 ? datum.label : ''","tickSize":{"condition":{"test":"datum.value % 2 == 0","value":12},"value":5},"labelFontSize":21,"labelPadding":7}},
"y":{"field":"v","type":"quantitative","scale":{"domain":[0,1000],"nice":false},"axis":{"orient":"left","values":[0,100,200,300,400,500,600,700,800,900,1000],"format":"d","labelExpr":"datum.value % 200 == 0 ? datum.label + '.' : ''","tickSize":11,"labelFontSize":34,"labelPadding":14,"labelOffset":-4,"title":"cm² s⁻²","titleFontSize":48,"titleAngle":-90,"titleX":-104,"titleY":105,"titleAlign":"center","titleBaseline":"middle"}}}},
{"data":{"name":"tl"},"transform":[{"lookup":"m","from":{"data":{"values":[{"m":1,"e":222},{"m":2,"e":175},{"m":3,"e":135},{"m":4,"e":112},{"m":5,"e":118},{"m":6,"e":140},{"m":7,"e":158},{"m":8,"e":170},{"m":9,"e":165},{"m":10,"e":180},{"m":11,"e":190},{"m":12,"e":200}]},"key":"m","fields":["e"]}}],
"mark":{"type":"line","color":"#ff1a1a","strokeWidth":1.6},
"encoding":{"x":{"field":"t","type":"quantitative","axis":{"orient":"top","title":null,"labels":false,"values":[1993,1994,1995,1996,1997,1998,1999,2000,2001,2002,2003,2004,2005,2006,2007,2008,2009,2010,2011,2012,2013,2014,2015,2016,2017,2018,2019,2020,2021,2022,2023,2024],"tickSize":{"condition":{"test":"datum.value % 2 == 0","value":12},"value":5}}},
"y":{"field":"e","type":"quantitative","axis":{"orient":"right","title":null,"labels":false,"values":[0,100,200,300,400,500,600,700,800,900,1000],"tickSize":11}}}},
{"data":{"values":[{"a":1993,"b":2024,"v":165}]},"mark":{"type":"rule","color":"#22e022","strokeWidth":1.8},"encoding":{"x":{"field":"a","type":"quantitative","axis":null},"x2":{"field":"b"},"y":{"field":"v","type":"quantitative","axis":null}}},
{"data":{"values":[{"t":1993.6,"v":832,"s":"EAI"}]},"mark":{"type":"text","align":"left","baseline":"middle","fontSize":37,"font":"Liberation Sans","color":"#000"},"encoding":{"x":{"field":"t","type":"quantitative","axis":null},"y":{"field":"v","type":"quantitative","axis":null},"text":{"field":"s"}}},
{"data":{"values":[{"t":2023.04,"v":179}]},"mark":{"type":"point","shape":"M -0.47 0 A 0.47 1 0 1 0 0.47 0 A 0.47 1 0 1 0 -0.47 0 Z","size":34596,"filled":false,"stroke":"#ED7D31","strokeWidth":5,"opacity":1},"encoding":{"x":{"field":"t","type":"quantitative","axis":null},"y":{"field":"v","type":"quantitative","axis":null}}}
]}
]
}
